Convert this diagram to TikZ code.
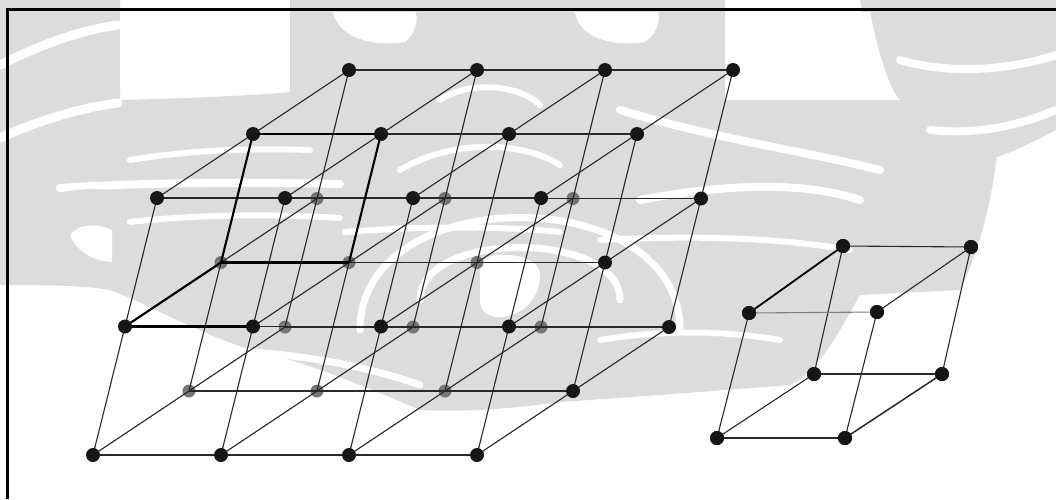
\documentclass[tikz,border=0pt]{standalone}
\usetikzlibrary{calc}
\definecolor{wm}{RGB}{220,220,220}
\definecolor{dotblack}{RGB}{22,22,22}
\definecolor{dotgray}{RGB}{118,118,118}
\definecolor{edgecol}{RGB}{40,40,40}
\tikzset{
  bdot/.style={circle,fill=dotblack,draw=none,inner sep=0pt,minimum size=14pt},
  gdot/.style={circle,fill=dotgray,draw=none,inner sep=0pt,minimum size=13pt},
  thinedge/.style={draw=edgecol,line width=1.1pt},
  boldedge/.style={draw=black,line width=2.1pt},
  frameline/.style={draw=black,line width=3pt},
  wmfill/.style={fill=wm,draw=none},
  wmgap/.style={draw=white,line cap=round}
}
\begin{document}
\begin{tikzpicture}[x=1pt,y=-1pt]
\useasboundingbox (0,0) rectangle (1056,499);
% ---------------- watermark (approximate) ----------------
\begin{scope}
  \path[wmfill] (0,0) -- (120,0) -- (120,100) .. controls (200,98) and (260,95) .. (290,92)
     -- (290,0) -- (725,0) -- (725,100) .. controls (850,100) and (950,95) .. (1000,100)
     .. controls (1000,180) and (980,250) .. (960,290) -- (860,295)
     .. controls (840,330) and (820,370) .. (790,385) .. controls (700,392) and (620,398) .. (560,402)
     .. controls (500,410) and (460,412) .. (420,410)
     .. controls (350,380) and (300,360) .. (250,350) .. controls (180,325) and (140,300) .. (110,290)
     .. controls (80,285) and (40,285) .. (0,285) -- cycle;
  \path[wmfill] (860,0) -- (1056,0) -- (1056,130) .. controls (1000,160) and (960,172) .. (920,172)
     .. controls (890,120) and (870,60) .. (860,0) -- cycle;
  % white gaps
  \path[fill=white] (120,12) rectangle (285,88);
  \path[fill=white] (730,12) -- (870,12) .. controls (880,60) and (890,90) .. (900,100) -- (730,100) -- cycle;
  \path[fill=white] (333,12) .. controls (340,42) and (380,46) .. (405,42) .. controls (418,32) and (418,15) .. (415,12) -- cycle;
  \path[fill=white] (575,12) .. controls (580,42) and (620,46) .. (645,42) .. controls (660,32) and (660,15) .. (658,12) -- cycle;
  \draw[wmgap,line width=9pt] (0,65) .. controls (40,45) and (80,30) .. (118,25);
  \draw[wmgap,line width=9pt] (0,138) .. controls (40,120) and (80,108) .. (118,103);
  \draw[wmgap,line width=6pt] (130,160) .. controls (190,150) and (250,148) .. (310,150);
  \draw[wmgap,line width=8pt] (60,188) .. controls (150,182) and (250,182) .. (340,184);
  \draw[wmgap,line width=6pt] (130,222) .. controls (200,214) and (280,214) .. (340,218);
  \draw[wmgap,line width=6pt] (345,232) .. controls (420,226) and (500,226) .. (560,232);
  \draw[wmgap,line width=6pt] (400,170) .. controls (450,140) and (520,140) .. (560,165);
  \draw[wmgap,line width=6pt] (440,100) .. controls (470,80) and (520,85) .. (540,105);
  \draw[wmgap,line width=8pt] (900,60) .. controls (950,75) and (1010,70) .. (1056,55);
  \draw[wmgap,line width=8pt] (930,130) .. controls (980,135) and (1020,125) .. (1056,110);
  \draw[wmgap,line width=8pt] (620,110) .. controls (720,140) and (800,150) .. (880,170);
  \draw[wmgap,line width=8pt] (640,200) .. controls (720,185) and (800,180) .. (860,200);
  \draw[wmgap,line width=6pt] (600,240) .. controls (700,235) and (780,238) .. (850,250);
  \draw[wmgap,line width=7pt] (420,300) .. controls (420,230) and (620,230) .. (620,300);
  \draw[wmgap,line width=7pt] (360,330) .. controls (360,180) and (680,180) .. (680,330);
  \path[fill=white] (480,265) .. controls (480,250) and (540,250) .. (540,275) .. controls (540,320) and (480,330) .. (480,300) -- cycle;
  \draw[wmgap,line width=7pt] (150,352) .. controls (250,345) and (350,360) .. (420,385);
  \draw[wmgap,line width=6pt] (600,340) .. controls (660,330) and (720,330) .. (780,340);
  % left curl
  \path[wmfill] (20,240) .. controls (20,200) and (60,185) .. (110,190) -- (110,280) .. controls (70,282) and (20,280) .. (20,240) -- cycle;
  \path[fill=white] (70,235) .. controls (80,222) and (100,224) .. (112,230) -- (112,262) .. controls (95,262) and (75,250) .. (70,235) -- cycle;
\end{scope}
% ---------------- frame ----------------
\coordinate (fb) at (7.5,499);
\coordinate (ftl) at (7.5,9);
\coordinate (ftr) at (1056,9);
\draw[frameline] (fb) -- (ftl) -- (ftr);
% ---------------- lattice ----------------
\foreach \i in {0,...,3}{
  \foreach \d in {0,1,2}{
    \foreach \u in {0,1,2}{
      \coordinate (p\i\d\u) at ({93+128*\i+96*\d+32*\u},{455-64*\d-128.5*\u});
    }
  }
}
\foreach \i in {0,1,2}{
  \foreach \d in {1,2}{
    \foreach \u in {0,1}{
      \node[gdot] (n\i\d\u) at (p\i\d\u) {};
    }
  }
}
\foreach \d in {0,1,2}{
  \foreach \u in {0,1,2}{
    \draw[thinedge] (p0\d\u) -- (p1\d\u) -- (p2\d\u) -- (p3\d\u);
  }
}
\foreach \i in {0,...,3}{
  \foreach \u in {0,1,2}{
    \draw[thinedge] (p\i0\u) -- (p\i1\u) -- (p\i2\u);
  }
  \foreach \d in {0,1,2}{
    \draw[thinedge] (p\i\d0) -- (p\i\d1) -- (p\i\d2);
  }
}
\draw[boldedge] (p012) -- (p112);
\draw[boldedge] (p001) -- (p101);
\draw[boldedge] (p011) -- (p111);
\draw[boldedge] (p011) -- (p012);
\draw[boldedge] (p111) -- (p112);
\draw[boldedge] (p001) -- (p011);
\foreach \i in {0,...,3}{
  \foreach \d in {0,1,2}{
    \foreach \u in {0,1,2}{
      \pgfmathtruncatemacro{\hid}{(\i<3)*(\d>0)*(\u<2)}
      \ifnum\hid=0
        \node[bdot] (n\i\d\u) at (p\i\d\u) {};
      \fi
    }
  }
}
% ---------------- single cube ----------------
\node[bdot] (c1) at (717,438) {};
\node[bdot] (c2) at (845,438) {};
\node[bdot] (c3) at (814,374) {};
\node[bdot] (c4) at (942,374) {};
\node[bdot] (c5) at (749,313) {};
\node[bdot] (c6) at (877,312) {};
\node[bdot] (c7) at (843,246) {};
\node[bdot] (c8) at (971,247) {};
\draw[thinedge] (c1.center) -- (c2.center);
\draw[thinedge] (c1.center) -- (c3.center);
\draw[thinedge,line width=1.5pt] (c2.center) -- (c4.center);
\draw[thinedge] (c3.center) -- (c4.center);
\draw[thinedge] (c1.center) -- (c5.center);
\draw[thinedge] (c2.center) -- (c6.center);
\draw[thinedge] (c3.center) -- (c7.center);
\draw[thinedge] (c4.center) -- (c8.center);
\draw[thinedge,draw=gray] (c5.center) -- (c6.center);
\draw[thinedge] (c7.center) -- (c8.center);
\draw[boldedge,line width=1.8pt] (c5.center) -- (c7.center);
\draw[thinedge] (c6.center) -- (c8.center);
\foreach \c in {c1,c2,c3,c4,c5,c6,c7,c8}{\node[bdot] at (\c) {};}
\end{tikzpicture}
\end{document}
